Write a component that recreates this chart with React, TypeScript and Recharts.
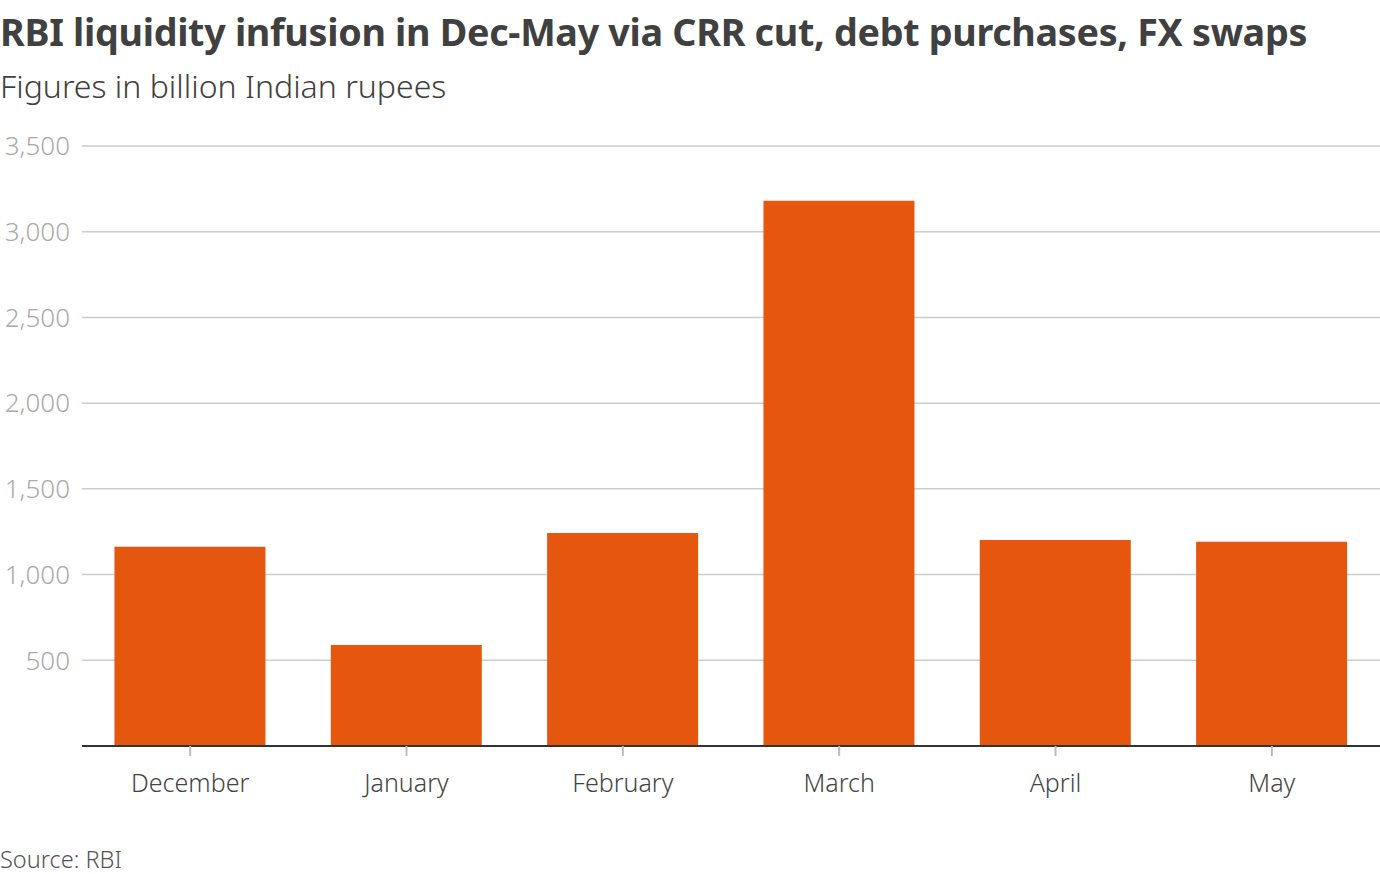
import React from "react";
import { BarChart, Bar, XAxis, YAxis, CartesianGrid } from "recharts";

const months = ["December", "January", "February", "March", "April", "May"];
const liquidity = [1162, 589, 1243, 3181, 1202, 1192];
const yTicks = [500, 1000, 1500, 2000, 2500, 3000, 3500];

const data = months.map((month, i) => ({ month, value: liquidity[i] }));

const FONT = "'Noto Sans', sans-serif";

export default function App() {
  return (
    <div
      style={{
        position: "absolute",
        left: 0,
        top: 0,
        width: 1380,
        height: 874,
        background: "#fff",
        fontFamily: FONT,
        overflow: "hidden",
      }}
    >
      <div
        style={{
          position: "absolute",
          left: 0,
          top: 6,
          fontSize: 37.7,
          fontWeight: 700,
          color: "#404040",
          whiteSpace: "nowrap",
          letterSpacing: -0.3,
        }}
      >
        RBI liquidity infusion in Dec-May via CRR cut, debt purchases, FX swaps
      </div>
      <div
        style={{
          position: "absolute",
          left: 0,
          top: 64,
          fontSize: 32,
          fontWeight: 300,
          color: "#404040",
          whiteSpace: "nowrap",
        }}
      >
        Figures in billion Indian rupees
      </div>

      <div style={{ position: "absolute", left: 0, top: 0 }}>
        <BarChart
          width={1380}
          height={874}
          data={data}
          margin={{ top: 146, right: 0, bottom: 98, left: 0 }}
          barCategoryGap="15%"
        >
          <CartesianGrid
            horizontal
            vertical={false}
            stroke="#cccccc"
            strokeWidth={1.5}
          />
          <XAxis
            dataKey="month"
            height={30}
            axisLine={{ stroke: "#333333", strokeWidth: 2 }}
            tickLine={{ stroke: "#bbbbbb", strokeWidth: 2 }}
            tickSize={10}
            tickMargin={18}
            tick={{ fill: "#444444", fontSize: 25, fontFamily: FONT, fontWeight: 300 }}
            interval={0}
          />
          <YAxis
            width={82}
            domain={[0, 3500]}
            ticks={yTicks}
            axisLine={false}
            tickLine={false}
            tickSize={0}
            tickMargin={12}
            tickFormatter={(v: number) => v.toLocaleString("en-US")}
            tick={{ fill: "#aaaaaa", fontSize: 26, fontFamily: FONT, fontWeight: 300 }}
          />
          <Bar dataKey="value" fill="#e5560f" isAnimationActive={false} />
        </BarChart>
      </div>

      <div
        style={{
          position: "absolute",
          left: 0,
          top: 843,
          fontSize: 23.5,
          fontWeight: 300,
          color: "#555555",
          whiteSpace: "nowrap",
        }}
      >
        Source: RBI
      </div>
    </div>
  );
}
